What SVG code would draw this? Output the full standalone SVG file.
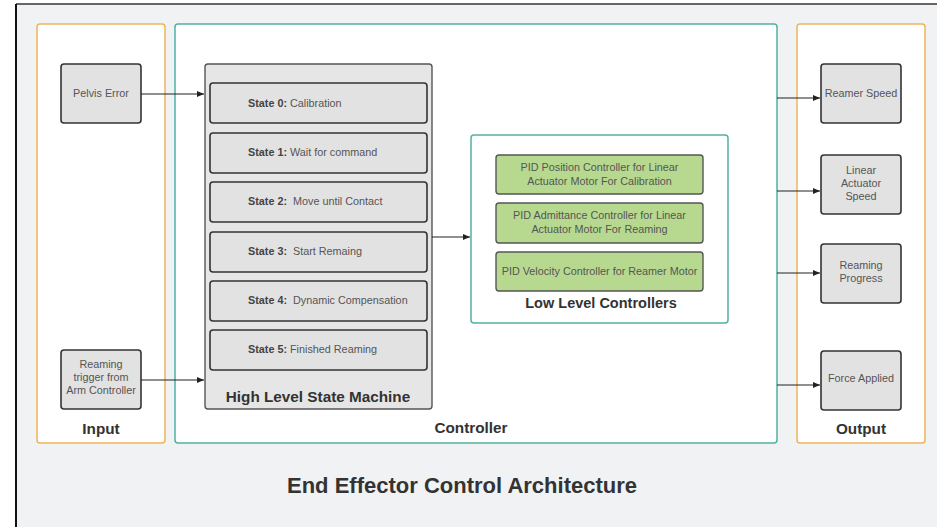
<svg xmlns="http://www.w3.org/2000/svg" width="937" height="527" viewBox="0 0 937 527">
  <defs>
    <marker id="arrow" markerWidth="8" markerHeight="8" refX="7" refY="4" orient="auto" markerUnits="userSpaceOnUse">
      <path d="M0,1 L7,4 L0,7 Z" fill="#222"/>
    </marker>
    <style>
      .panel-o { fill: #ffffff; stroke: #f0b45a; stroke-width: 1.5; }
      .panel-t { fill: #ffffff; stroke: #4fb3a1; stroke-width: 1.5; }
      .node { fill: #e2e2e2; stroke: #333333; stroke-width: 1.6; }
      .sm { fill: #e6e6e6; stroke: #555555; stroke-width: 1.4; }
      .ctl { fill: #b7d98f; stroke: #555555; stroke-width: 1.4; }
      .txt { font-family: "Liberation Sans", Arial, sans-serif; font-size: 10.8px; fill: #555555; text-anchor: middle; }
      .st { font-family: "Liberation Sans", Arial, sans-serif; font-size: 10.8px; fill: #555555; }
      .st tspan.b { font-weight: bold; fill: #444444; }
      .lbl { font-family: "Liberation Sans", Arial, sans-serif; font-weight: bold; fill: #333333; text-anchor: middle; }
      .conn line { stroke: #222222; stroke-width: 1.1; marker-end: url(#arrow); }
    </style>
  </defs>

  <!-- background frame -->
  <rect x="0" y="0" width="937" height="527" fill="#ffffff"/>
  <rect x="16" y="4" width="930" height="530" fill="#f1f2f4"/>
  <line x1="16" y1="4" x2="937" y2="4" stroke="#666666" stroke-width="2"/>
  <line x1="16" y1="4" x2="16" y2="527" stroke="#111111" stroke-width="2"/>

  <!-- panels -->
  <g id="input-panel">
    <rect class="panel-o" x="37" y="24" width="128" height="419" rx="3"/>
    <text class="lbl" x="101" y="434" font-size="15.3">Input</text>
  </g>
  <g id="controller-panel">
    <rect class="panel-t" x="175" y="24" width="602" height="419" rx="3"/>
    <text class="lbl" x="471" y="433" font-size="15.3">Controller</text>
  </g>
  <g id="output-panel">
    <rect class="panel-o" x="797" y="24" width="128" height="419" rx="3"/>
    <text class="lbl" x="861" y="434" font-size="15.3">Output</text>
  </g>

  <!-- inputs -->
  <g id="pelvis-error">
    <rect class="node" x="61" y="64" width="80" height="59" rx="3"/>
    <text class="txt" x="101" y="96.5">Pelvis Error</text>
  </g>
  <g id="reaming-trigger">
    <rect class="node" x="61" y="350" width="80" height="59" rx="3"/>
    <text class="txt" x="101" y="368">Reaming</text>
    <text class="txt" x="101" y="381">trigger from</text>
    <text class="txt" x="101" y="394">Arm Controller</text>
  </g>

  <!-- high level state machine -->
  <g id="state-machine">
    <rect class="sm" x="205" y="64" width="227" height="345" rx="3"/>
    <text class="lbl" x="318" y="402" font-size="15.3">High Level State Machine</text>
  </g>
  <g id="state-0">
    <rect class="node" x="210" y="83" width="217" height="40" rx="3"/>
    <text class="st" x="248" y="106.5"><tspan class="b">State 0:</tspan> Calibration</text>
  </g>
  <g id="state-1">
    <rect class="node" x="210" y="133" width="217" height="40" rx="3"/>
    <text class="st" x="248" y="155.5"><tspan class="b">State 1:</tspan> Wait for command</text>
  </g>
  <g id="state-2">
    <rect class="node" x="210" y="182" width="217" height="40" rx="3"/>
    <text class="st" x="248" y="205" xml:space="preserve"><tspan class="b">State 2:</tspan>  Move until Contact</text>
  </g>
  <g id="state-3">
    <rect class="node" x="210" y="232" width="217" height="40" rx="3"/>
    <text class="st" x="248" y="254.5" xml:space="preserve"><tspan class="b">State 3:</tspan>  Start Remaing</text>
  </g>
  <g id="state-4">
    <rect class="node" x="210" y="281" width="217" height="40" rx="3"/>
    <text class="st" x="248" y="304" xml:space="preserve"><tspan class="b">State 4:</tspan>  Dynamic Compensation</text>
  </g>
  <g id="state-5">
    <rect class="node" x="210" y="330" width="217" height="40" rx="3"/>
    <text class="st" x="248" y="353"><tspan class="b">State 5:</tspan> Finished Reaming</text>
  </g>

  <!-- low level controllers -->
  <g id="low-level">
    <rect class="panel-t" x="471" y="135" width="257" height="188" rx="3"/>
    <text class="lbl" x="601" y="308" font-size="14.5">Low Level Controllers</text>
  </g>
  <g id="pid-position">
    <rect class="ctl" x="496" y="155" width="207" height="39" rx="3"/>
    <text class="txt" x="599.5" y="171">PID Position Controller for Linear</text>
    <text class="txt" x="599.5" y="184.5">Actuator Motor For Calibration</text>
  </g>
  <g id="pid-admittance">
    <rect class="ctl" x="496" y="203" width="207" height="40" rx="3"/>
    <text class="txt" x="599.5" y="219">PID Admittance Controller for Linear</text>
    <text class="txt" x="599.5" y="232.5">Actuator Motor For Reaming</text>
  </g>
  <g id="pid-velocity">
    <rect class="ctl" x="496" y="252" width="207" height="39" rx="3"/>
    <text class="txt" x="599.5" y="275">PID Velocity Controller for Reamer Motor</text>
  </g>

  <!-- outputs -->
  <g id="reamer-speed">
    <rect class="node" x="821" y="64" width="80" height="59" rx="3"/>
    <text class="txt" x="861" y="96.5">Reamer Speed</text>
  </g>
  <g id="actuator-speed">
    <rect class="node" x="821" y="155" width="80" height="59" rx="3"/>
    <text class="txt" x="861" y="174">Linear</text>
    <text class="txt" x="861" y="187">Actuator</text>
    <text class="txt" x="861" y="200">Speed</text>
  </g>
  <g id="reaming-progress">
    <rect class="node" x="821" y="244" width="80" height="59" rx="3"/>
    <text class="txt" x="861" y="269">Reaming</text>
    <text class="txt" x="861" y="282">Progress</text>
  </g>
  <g id="force-applied">
    <rect class="node" x="821" y="351" width="80" height="59" rx="3"/>
    <text class="txt" x="861" y="381.5">Force Applied</text>
  </g>

  <!-- connectors -->
  <g id="connectors" class="conn">
    <line x1="141" y1="94" x2="204" y2="94"/>
    <line x1="141" y1="380" x2="204" y2="380"/>
    <line x1="432" y1="237" x2="470" y2="237"/>
    <line x1="777" y1="98" x2="820" y2="98"/>
    <line x1="777" y1="191" x2="820" y2="191"/>
    <line x1="777" y1="273" x2="820" y2="273"/>
    <line x1="777" y1="385" x2="820" y2="385"/>
  </g>

  <!-- title -->
  <text class="lbl" x="462" y="493" font-size="22">End Effector Control Architecture</text>
</svg>
